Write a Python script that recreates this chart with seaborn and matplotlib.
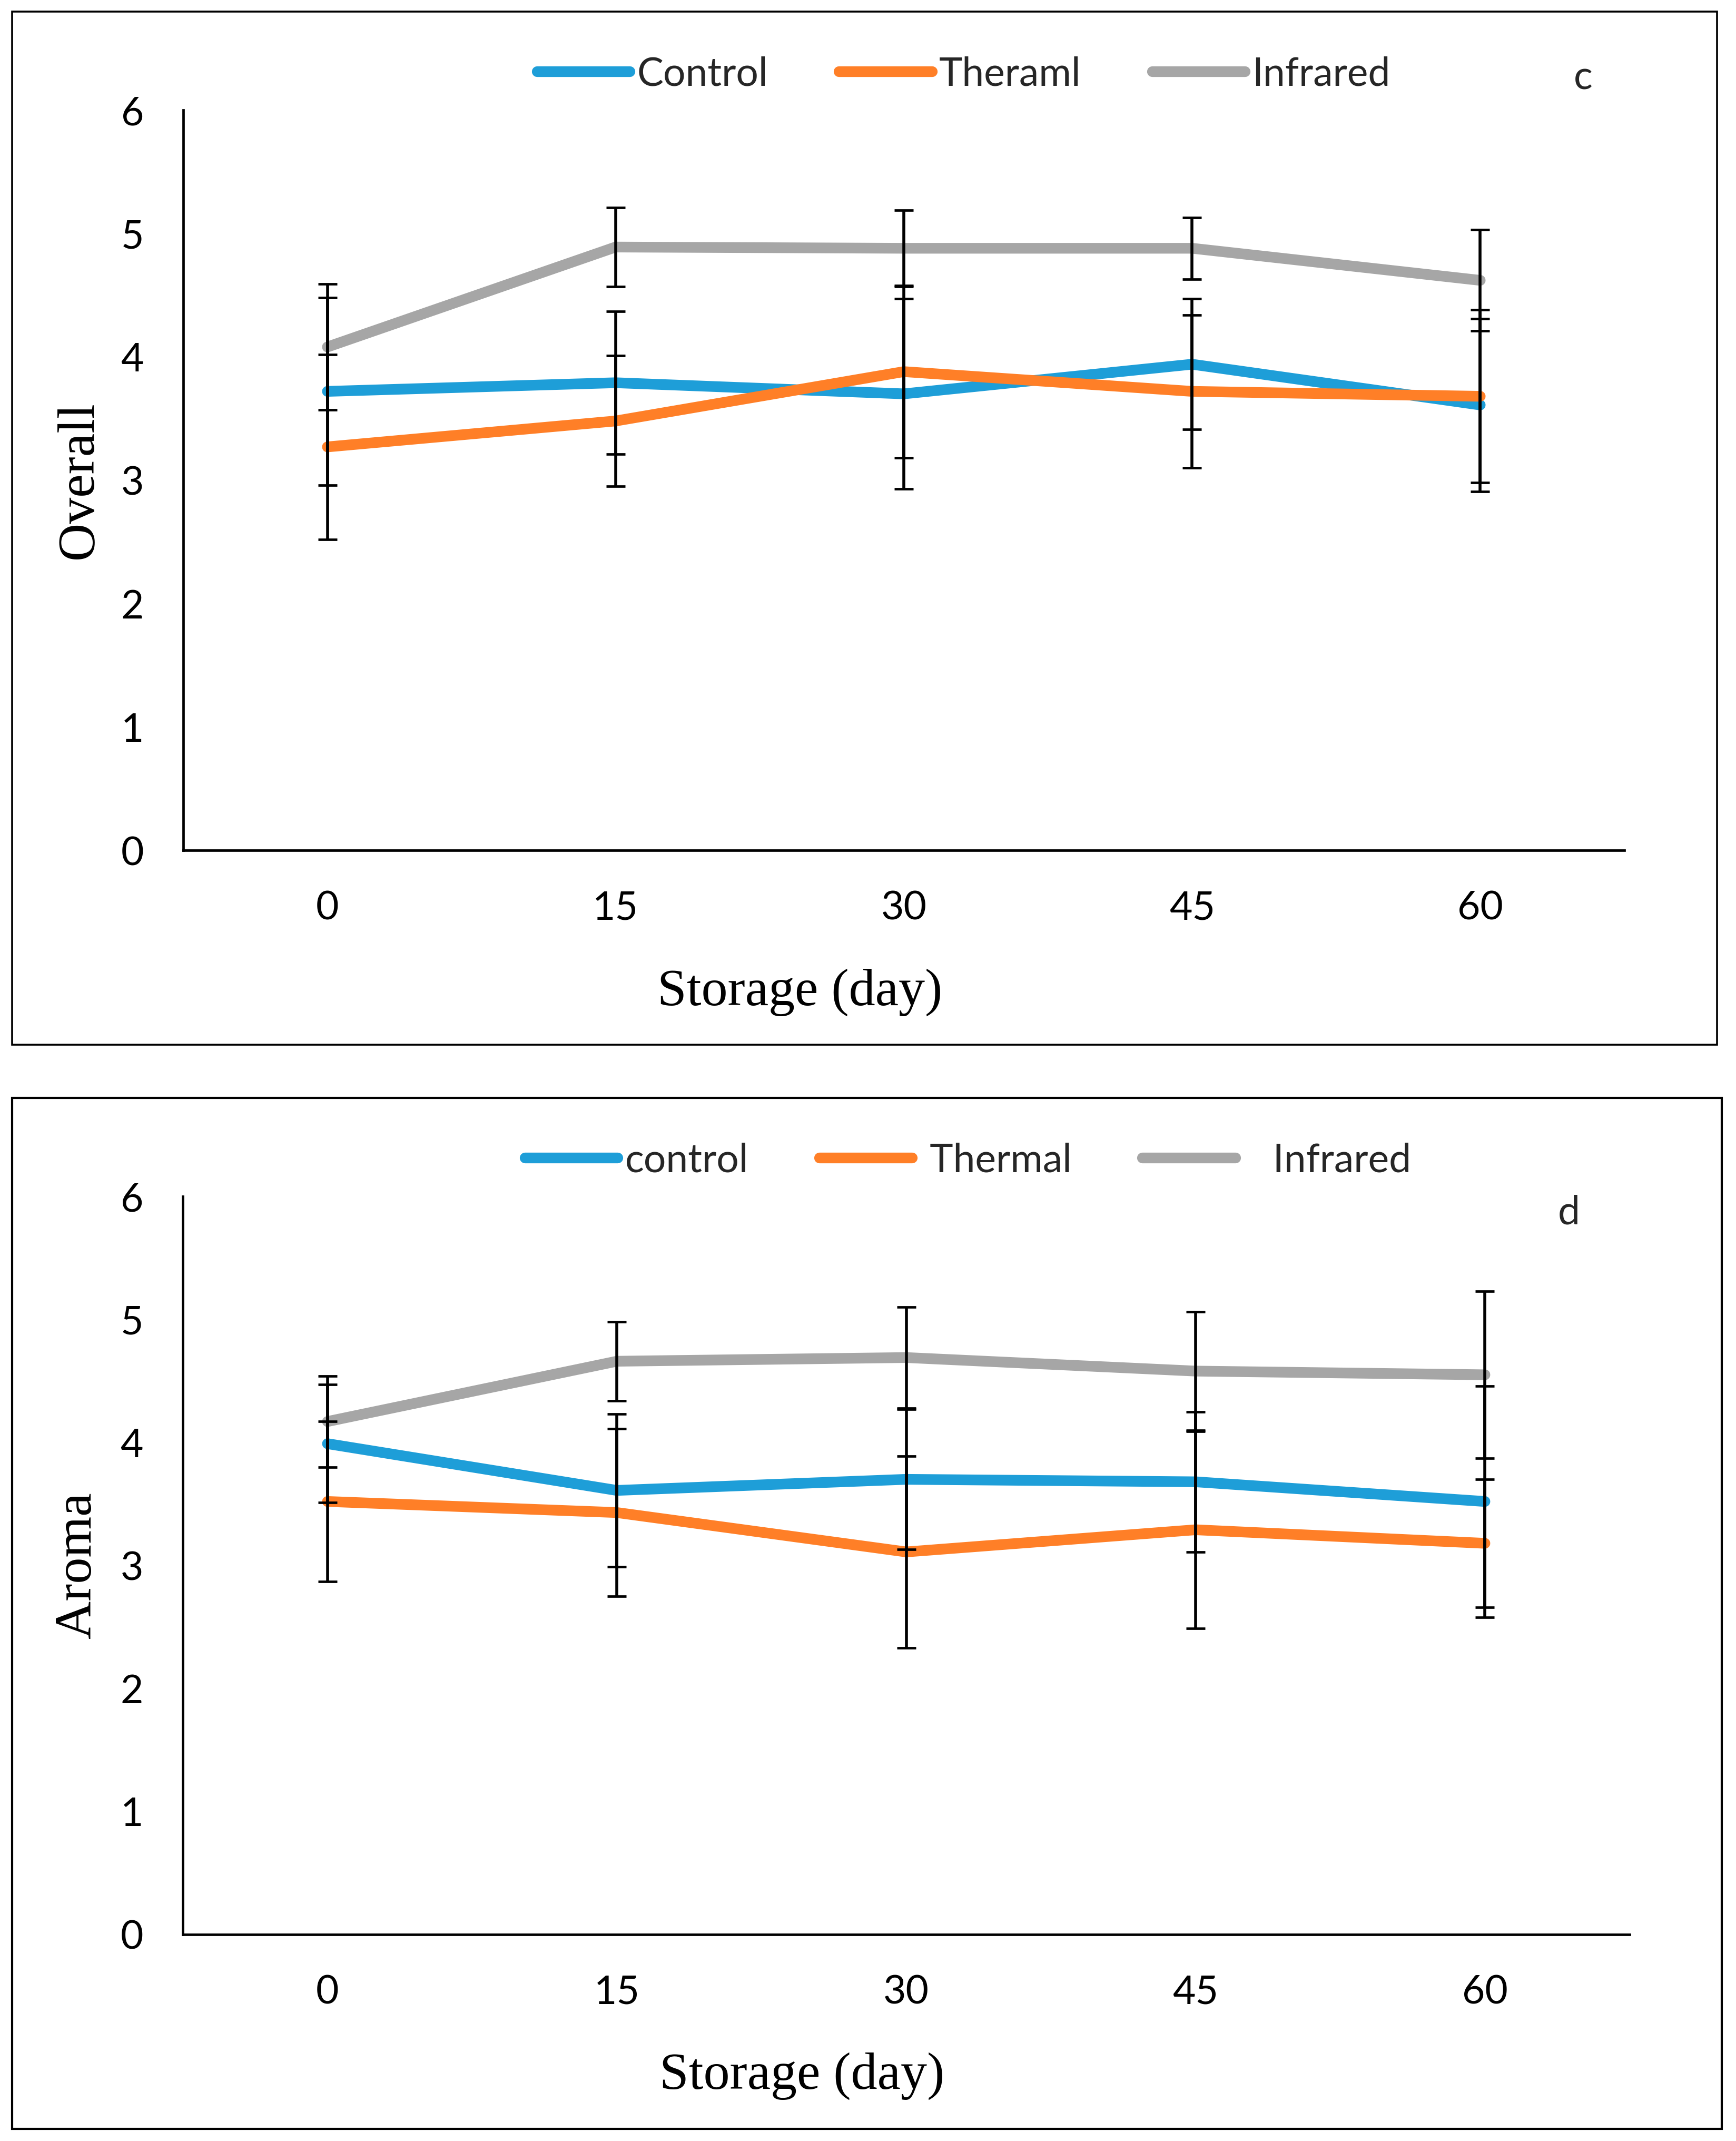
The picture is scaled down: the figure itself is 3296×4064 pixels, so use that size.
import numpy as np
import pandas as pd
import seaborn as sns
import matplotlib
matplotlib.use("Agg")
import matplotlib.pyplot as plt
from matplotlib.patches import Rectangle

# storage days (x categories)
days = [0, 15, 30, 45, 60]
treatments = ["Control", "Thermal", "Infrared"]

# panel c - Overall
overall_control = [3.72, 3.79, 3.70, 3.94, 3.61]
overall_thermal = [3.27, 3.48, 3.88, 3.72, 3.68]
overall_infrared = [4.08, 4.89, 4.88, 4.88, 4.62]
overall_control_sd = [0.76, 0.58, 0.77, 0.53, 0.70]
overall_thermal_sd = [0.75, 0.53, 0.70, 0.62, 0.70]
overall_infrared_sd = [0.51, 0.32, 0.31, 0.25, 0.41]

# panel d - Aroma
aroma_control = [3.99, 3.61, 3.70, 3.68, 3.52]
aroma_thermal = [3.52, 3.43, 3.11, 3.29, 3.18]
aroma_infrared = [4.17, 4.66, 4.69, 4.58, 4.55]
aroma_control_sd = [0.48, 0.62, 0.57, 0.57, 0.94]
aroma_thermal_sd = [0.65, 0.68, 0.78, 0.80, 0.52]
aroma_infrared_sd = [0.37, 0.32, 0.41, 0.48, 0.68]

colors = {"Control": "#1E9ED8", "Thermal": "#FF7F27", "Infrared": "#A6A6A6"}

sns.set_theme(style="white")
plt.rcParams["font.family"] = ["Lato", "DejaVu Sans"]

W, H = 3296, 4064
fig = plt.figure(figsize=(W / 200, H / 200), dpi=200)


def px_rect(x0, y0, x1, y1):
    # pixel box (top-left origin) -> figure fraction
    return [x0 / W, 1 - y1 / H, (x1 - x0) / W, (y1 - y0) / H]


def draw_panel(ax, means, sds, ylabel, legend_labels, legend_center):
    df = pd.DataFrame({
        "day": days * 3,
        "score": means[0] + means[1] + means[2],
        "treatment": sum([[t] * len(days) for t in treatments], []),
    })
    sns.lineplot(data=df, x="day", y="score", hue="treatment", hue_order=treatments,
                 palette=colors, linewidth=7.3, solid_capstyle="round",
                 legend=False, ax=ax, zorder=2)
    for m, s in zip(means, sds):
        ax.errorbar(days, m, yerr=s, fmt="none", ecolor="black", elinewidth=2.0,
                    capsize=6.5, capthick=1.7, zorder=3)

    ax.set_xlim(-7.5, 67.5)
    ax.set_ylim(0, 6)
    ax.set_xticks(days)
    ax.set_yticks(range(7))
    ax.tick_params(axis="both", length=0, labelsize=27, colors="black")
    ax.tick_params(axis="y", pad=27)
    ax.tick_params(axis="x", pad=27)
    for side in ["top", "right"]:
        ax.spines[side].set_visible(False)
    for side in ["left", "bottom"]:
        ax.spines[side].set_color("black")
        ax.spines[side].set_linewidth(1.7)
    ax.grid(False)
    ax.set_facecolor("none")

    ax.set_xlabel("Storage (day)", fontsize=36, family="Liberation Serif", color="black")
    ax.xaxis.set_label_coords(0.428, -0.192)
    ax.xaxis.label.set_va("center")
    ax.set_ylabel(ylabel, fontsize=36, family="Liberation Serif", color="black")
    ax.yaxis.set_label_coords(-0.0725, 0.5)
    ax.yaxis.label.set_va("center")

    handles = ax.get_lines()[:3]
    fig.legend(handles, legend_labels, loc="center", ncol=3, frameon=False,
               bbox_to_anchor=(legend_center[0] / W, 1 - legend_center[1] / H),
               bbox_transform=fig.transFigure, fontsize=27, handlelength=2.35,
               handletextpad=0.18, columnspacing=1.8, borderpad=0, borderaxespad=0)


# outer frames
fig.add_artist(Rectangle(px_rect(23, 22, 3260, 1983)[:2], px_rect(23, 22, 3260, 1983)[2],
                         px_rect(23, 22, 3260, 1983)[3], transform=fig.transFigure,
                         fill=False, edgecolor="black", linewidth=1.3))
fig.add_artist(Rectangle(px_rect(23, 2084, 3269, 4041)[:2], px_rect(23, 2084, 3269, 4041)[2],
                         px_rect(23, 2084, 3269, 4041)[3], transform=fig.transFigure,
                         fill=False, edgecolor="black", linewidth=1.5))

ax1 = fig.add_axes(px_rect(348, 209, 3084, 1614))
draw_panel(ax1,
           [overall_control, overall_thermal, overall_infrared],
           [overall_control_sd, overall_thermal_sd, overall_infrared_sd],
           "Overall", ["Control", "Theraml", "Infrared"], (1830, 141))
fig.text(3006 / W, 1 - 170 / H, "c", fontsize=27, ha="center", va="baseline")

ax2 = fig.add_axes(px_rect(347, 2271, 3094, 3672))
draw_panel(ax2,
           [aroma_control, aroma_thermal, aroma_infrared],
           [aroma_control_sd, aroma_thermal_sd, aroma_infrared_sd],
           "Aroma", ["control", " Thermal", "   Infrared"], (1838, 2203))
fig.text(2979 / W, 1 - 2323 / H, "d", fontsize=27, ha="center", va="baseline")

fig.savefig("out.png", dpi=200, facecolor="white")
